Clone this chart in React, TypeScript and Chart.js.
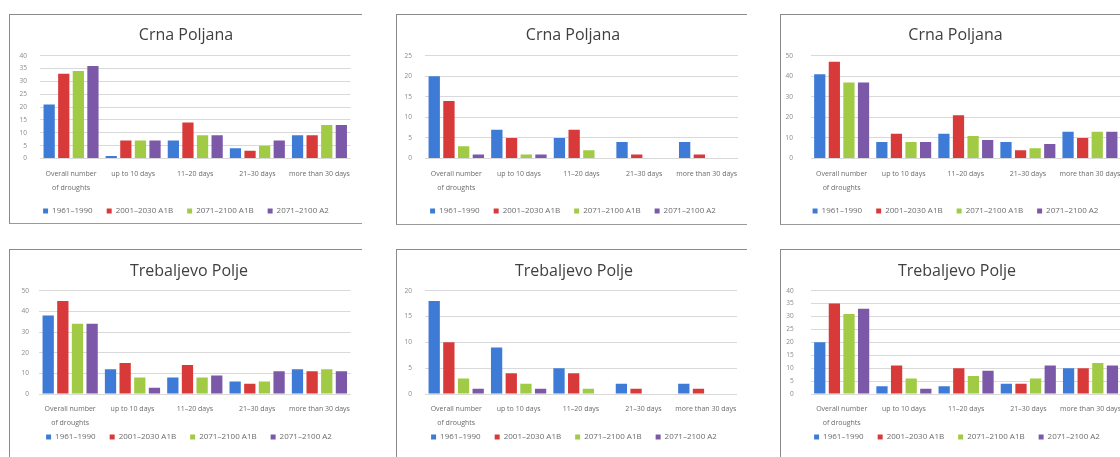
import React, { useEffect, useRef } from "react";
import { Chart, registerables } from "chart.js";

Chart.register(...registerables);

const FONT = "'Open Sans', 'DejaVu Sans', sans-serif";

const categories: (string | string[])[] = [
  ["Overall number", "of droughts"],
  "up to 10 days",
  "11–20 days",
  "21–30 days",
  "more than 30 days",
];
const seriesNames = ["1961–1990", "2001–2030 A1B", "2071–2100 A1B", "2071–2100 A2"];
const seriesColors = ["#3d7bd6", "#d83a3a", "#a1cb44", "#7b59a8"];

const titleTop = "Crna Poljana";
const titleBottom = "Trebaljevo Polje";

// Panel 1: Crna Poljana (top left)
const p1_1961 = [21, 1, 7, 4, 9];
const p1_2001A1B = [33, 7, 14, 3, 9];
const p1_2071A1B = [34, 7, 9, 5, 13];
const p1_2071A2 = [36, 7, 9, 7, 13];

// Panel 2: Crna Poljana (top middle)
const p2_1961 = [20, 7, 5, 4, 4];
const p2_2001A1B = [14, 5, 7, 1, 1];
const p2_2071A1B = [3, 1, 2, 0, 0];
const p2_2071A2 = [1, 1, 0, 0, 0];

// Panel 3: Crna Poljana (top right)
const p3_1961 = [41, 8, 12, 8, 13];
const p3_2001A1B = [47, 12, 21, 4, 10];
const p3_2071A1B = [37, 8, 11, 5, 13];
const p3_2071A2 = [37, 8, 9, 7, 13];

// Panel 4: Trebaljevo Polje (bottom left)
const p4_1961 = [38, 12, 8, 6, 12];
const p4_2001A1B = [45, 15, 14, 5, 11];
const p4_2071A1B = [34, 8, 8, 6, 12];
const p4_2071A2 = [34, 3, 9, 11, 11];

// Panel 5: Trebaljevo Polje (bottom middle)
const p5_1961 = [18, 9, 5, 2, 2];
const p5_2001A1B = [10, 4, 4, 1, 1];
const p5_2071A1B = [3, 2, 1, 0, 0];
const p5_2071A2 = [1, 1, 0, 0, 0];

// Panel 6: Trebaljevo Polje (bottom right)
const p6_1961 = [20, 3, 3, 4, 10];
const p6_2001A1B = [35, 11, 10, 4, 10];
const p6_2071A1B = [31, 6, 7, 6, 12];
const p6_2071A2 = [33, 2, 9, 11, 11];

// y-axis ranges
const yMaxes = [40, 25, 50, 50, 20, 40];
const ySteps = [5, 5, 10, 10, 5, 5];

type PanelProps = {
  title: string;
  values: number[][];
  yMax: number;
  yStep: number;
  left: number;
  top: number;
  width: number;
  height: number;
  yAxisWidth: number;
  yTickPad: number;
  padRight: number;
  titlePadTop: number;
  titlePadBottom: number;
  xAxisHeight: number;
  xTickPad: number;
};

// keep two-line category labels from being clipped to the axis box
const noClipLabels = {
  id: "noClipLabels",
  beforeDraw(chart: any) {
    const s = chart.scales.x;
    if (s) s._computeLabelArea = () => undefined;
  },
};

function Panel(p: PanelProps) {
  const ref = useRef<HTMLCanvasElement>(null);
  useEffect(() => {
    const chart = new Chart(ref.current as HTMLCanvasElement, {
      type: "bar",
      data: {
        labels: categories,
        datasets: seriesNames.map((n, i) => ({
          label: n,
          data: p.values[i],
          backgroundColor: seriesColors[i],
          borderWidth: 0,
          barPercentage: 0.77,
          categoryPercentage: 0.94,
        })),
      },
      options: {
        responsive: false,
        animation: false,
        devicePixelRatio: 1,
        layout: { padding: 0 },
        plugins: {
          title: {
            display: true,
            text: p.title,
            color: "#404040",
            font: { family: FONT, size: 16, weight: "normal", lineHeight: 1.2 },
            padding: { top: p.titlePadTop, bottom: p.titlePadBottom },
          },
          legend: {
            position: "bottom",
            labels: {
              boxWidth: 5,
              boxHeight: 5,
              padding: 14,
              color: "#6b6b6b",
              font: { family: FONT, size: 8 },
            },
          },
          tooltip: { enabled: false },
        },
        scales: {
          x: {
            grid: { display: false, drawTicks: false },
            border: { display: false },
            ticks: {
              color: "#6b6b6b",
              font: { family: FONT, size: 7, lineHeight: 1.93 },
              padding: p.xTickPad,
              maxRotation: 0,
              minRotation: 0,
              autoSkip: false,
            },
            afterFit: (s: any) => {
              s.height = p.xAxisHeight;
            },
          },
          y: {
            min: 0,
            max: p.yMax,
            ticks: {
              stepSize: p.yStep,
              color: "#8a8a8a",
              font: { family: FONT, size: 6.5 },
              padding: p.yTickPad,
            },
            grid: { color: "#d9d9d9", drawTicks: false },
            border: { display: false },
            afterFit: (s: any) => {
              s.width = p.yAxisWidth;
            },
          },
          yRight: {
            type: "linear",
            position: "right",
            display: true,
            grid: { display: false, drawTicks: false },
            border: { display: false },
            ticks: { display: false },
            afterFit: (s: any) => {
              s.width = p.padRight;
            },
          },
        },
      } as any,
      plugins: [noClipLabels],
    });
    return () => chart.destroy();
  }, []);
  return (
    <canvas
      ref={ref}
      width={p.width}
      height={p.height}
      style={{ position: "absolute", left: p.left, top: p.top, width: p.width, height: p.height }}
    />
  );
}

function Frame(props: { left: number; top: number; right: number; bottom: number | null }) {
  const { left, top, right, bottom } = props;
  return (
    <div
      style={{
        position: "absolute",
        left,
        top,
        width: right - left,
        height: bottom === null ? 457 - top + 5 : bottom - top,
        borderTop: "1px solid #8a8a8a",
        borderLeft: "1px solid #8a8a8a",
        borderBottom: bottom === null ? "none" : "1px solid #9a9a9a",
        boxSizing: "border-box",
      }}
    />
  );
}

export default function App() {
  const row1 = { top: 15, height: 210, titlePadTop: 10.4, titlePadBottom: 11.1, xAxisHeight: 34.5, xTickPad: 8.75 };
  const row2 = { top: 250, height: 201, titlePadTop: 11.6, titlePadBottom: 9.9, xAxisHeight: 25, xTickPad: 8.25 };
  return (
    <div
      style={{
        position: "fixed",
        left: 0,
        top: 0,
        width: 1120,
        height: 457,
        overflow: "hidden",
        background: "#ffffff",
      }}
    >
      <Frame left={9} top={14} right={362} bottom={224} />
      <Frame left={396} top={14} right={747} bottom={225} />
      <Frame left={780} top={14} right={1125} bottom={225} />
      <Frame left={9} top={249} right={362} bottom={null} />
      <Frame left={396} top={249} right={747} bottom={null} />
      <Frame left={780} top={249} right={1125} bottom={null} />

      <Panel
        title={titleTop}
        values={[p1_1961, p1_2001A1B, p1_2071A1B, p1_2071A2]}
        yMax={yMaxes[0]}
        yStep={ySteps[0]}
        left={10}
        width={352}
        yAxisWidth={30}
        yTickPad={13}
        padRight={11.5}
        {...row1}
      />
      <Panel
        title={titleTop}
        values={[p2_1961, p2_2001A1B, p2_2071A1B, p2_2071A2]}
        yMax={yMaxes[1]}
        yStep={ySteps[1]}
        left={397}
        width={352}
        yAxisWidth={28}
        yTickPad={13}
        padRight={11}
        {...row1}
      />
      <Panel
        title={titleTop}
        values={[p3_1961, p3_2001A1B, p3_2071A1B, p3_2071A2]}
        yMax={yMaxes[2]}
        yStep={ySteps[2]}
        left={781}
        width={349}
        yAxisWidth={29.6}
        yTickPad={17.6}
        padRight={8.4}
        {...row1}
      />
      <Panel
        title={titleBottom}
        values={[p4_1961, p4_2001A1B, p4_2071A1B, p4_2071A2]}
        yMax={yMaxes[3]}
        yStep={ySteps[3]}
        left={10}
        width={358}
        yAxisWidth={29}
        yTickPad={10}
        padRight={17.4}
        {...row2}
      />
      <Panel
        title={titleBottom}
        values={[p5_1961, p5_2001A1B, p5_2071A1B, p5_2071A2]}
        yMax={yMaxes[4]}
        yStep={ySteps[4]}
        left={397}
        width={354}
        yAxisWidth={28}
        yTickPad={13}
        padRight={14}
        {...row2}
      />
      <Panel
        title={titleBottom}
        values={[p6_1961, p6_2001A1B, p6_2071A1B, p6_2071A2]}
        yMax={yMaxes[5]}
        yStep={ySteps[5]}
        left={781}
        width={352}
        yAxisWidth={29.6}
        yTickPad={17}
        padRight={11.4}
        {...row2}
      />
    </div>
  );
}
